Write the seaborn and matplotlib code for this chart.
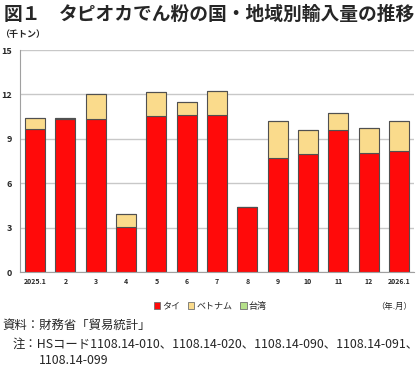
import matplotlib
matplotlib.use("Agg")
import matplotlib.pyplot as plt
import seaborn as sns
import pandas as pd
import numpy as np
from matplotlib.patches import Patch

months = ["2025.1", "2", "3", "4", "5", "6", "7", "8", "9", "10", "11", "12", "2026.1"]
thai = [9.64, 10.33, 10.36, 3.02, 10.54, 10.63, 10.59, 4.39, 7.68, 7.97, 9.62, 8.06, 8.20]
vietnam = [0.79, 0.05, 1.64, 0.88, 1.64, 0.83, 1.64, 0.02, 2.55, 1.62, 1.14, 1.67, 2.03]
taiwan = [0.0, 0.0, 0.0, 0.0, 0.0, 0.0, 0.0, 0.0, 0.0, 0.0, 0.0, 0.0, 0.0]
series_names = ["タイ", "ベトナム", "台湾"]
yticks = [0, 3, 6, 9, 12, 15]

sns.set_style("white")
plt.rcParams["font.family"] = ["Noto Sans CJK JP", "DejaVu Sans"]

df = pd.DataFrame({"month": months, "thai": thai, "vietnam": vietnam, "taiwan": taiwan})

fig = plt.figure(figsize=(4.2, 3.72), dpi=100)
ax = fig.add_axes([20/420, 1-272/372, 394/420, 222/372])

colors = ["#FF0A0A", "#FADB8C", "#B5E08A"]
edge = "#505050"
bottom = np.zeros(len(months))
for col, c in zip(["thai", "vietnam", "taiwan"], colors):
    sns.barplot(data=df, x="month", y=col, order=months, color=c, width=0.66,
                bottom=bottom, edgecolor=edge, linewidth=0.8, ax=ax,
                saturation=1, errorbar=None)
    bottom = bottom + df[col].values

ax.set_xlim(-0.5, len(months) - 0.5)
ax.set_ylim(0, 15)
ax.set_yticks(yticks)
ax.set_yticklabels([str(v) for v in yticks], fontsize=6.5, fontweight="bold")
ax.tick_params(axis="x", labelsize=5, length=0, pad=4)
ax.tick_params(axis="y", length=0, pad=6)
for lbl in ax.get_xticklabels():
    lbl.set_fontweight("bold")
ax.set_xlabel("")
ax.set_ylabel("")
ax.yaxis.grid(True, color="#C8C8C8", linewidth=1.0)
ax.set_axisbelow(True)
for s in ["top", "right"]:
    ax.spines[s].set_visible(False)
ax.spines["left"].set_color("#A0A0A0")
ax.spines["bottom"].set_color("#A0A0A0")

fig.text(4/420, 1-14/372, "図１", fontsize=13.5, fontweight="bold", va="center", ha="left")
fig.text(59/420, 1-14/372, "タピオカでん粉の国・地域別輸入量の推移", fontsize=13.5,
         fontweight="bold", va="center", ha="left")
fig.text(0/420, 1-34/372, "（千トン）", fontsize=6.5, fontweight="bold", va="center", ha="left")

handles = [Patch(facecolor=c, edgecolor="#707070", linewidth=0.6) for c in colors]
leg = fig.legend(handles, series_names, loc="center", bbox_to_anchor=(210/420, 1-306/372),
                 ncol=3, frameon=False, fontsize=6.5, handlelength=0.7, handleheight=0.7,
                 handletextpad=0.2, columnspacing=0.9)
fig.text(412/420, 1-306/372, "（年.月）", fontsize=6, va="center", ha="right")

fig.text(2/420, 1-325/372, "資料：財務省「貿易統計」", fontsize=8.9, va="center", ha="left")
fig.text(13/420, 1-344/372, "注：HSコード1108.14-010、1108.14-020、1108.14-090、1108.14-091、",
         fontsize=8.9, va="center", ha="left")
fig.text(39/420, 1-361/372, "1108.14-099", fontsize=8.9, va="center", ha="left")

fig.savefig("out.png", dpi=100)
